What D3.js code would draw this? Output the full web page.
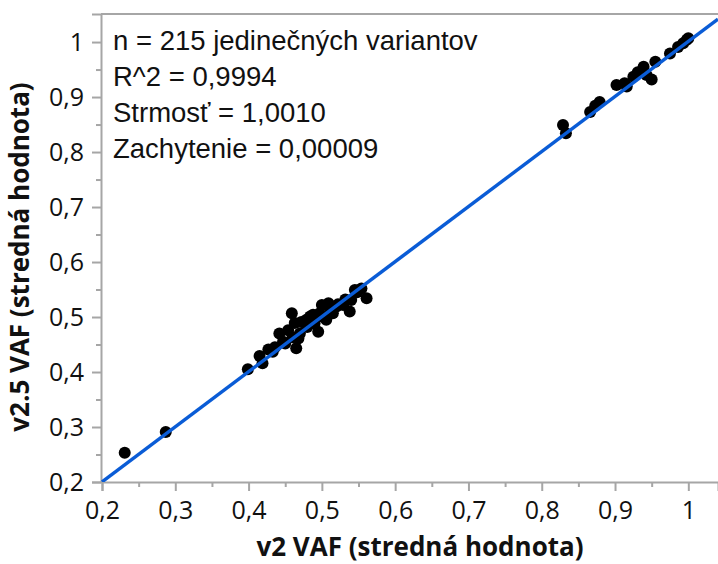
<!DOCTYPE html>
<html>
<head>
<meta charset="utf-8">
<script src="https://cdn.jsdelivr.net/npm/d3@7"></script>
<style>
  body { margin: 0; background: #fff; }
  svg { display: block; }
</style>
</head>
<body>
<svg id="chart" width="718" height="564"></svg>
<script>
// hodnoty odčítané z grafu
var v2Vaf = [
  0.231, 0.287,
  0.399, 0.415, 0.419, 0.427, 0.433, 0.436, 0.442, 0.447, 0.450, 0.454, 0.459, 0.460, 0.465, 0.463,
  0.468, 0.470, 0.472, 0.479, 0.480, 0.484, 0.488, 0.490, 0.495, 0.497, 0.500, 0.502, 0.506, 0.509,
  0.512, 0.515, 0.520, 0.522, 0.529, 0.532, 0.538, 0.540, 0.545, 0.548, 0.554, 0.561,
  0.829, 0.833, 0.866, 0.873, 0.879, 0.902, 0.913, 0.916, 0.925, 0.931, 0.939, 0.943, 0.950, 0.955,
  0.975, 0.986, 0.993, 0.998, 1.000
];
var v25Vaf = [
  0.253, 0.291,
  0.405, 0.429, 0.416, 0.441, 0.437, 0.445, 0.470, 0.455, 0.452, 0.476, 0.507, 0.463, 0.443, 0.489,
  0.461, 0.470, 0.491, 0.495, 0.482, 0.501, 0.504, 0.488, 0.473, 0.507, 0.522, 0.500, 0.495, 0.525,
  0.512, 0.507, 0.519, 0.523, 0.522, 0.532, 0.510, 0.531, 0.549, 0.545, 0.552, 0.534,
  0.849, 0.834, 0.873, 0.884, 0.891, 0.922, 0.925, 0.919, 0.937, 0.945, 0.955, 0.940, 0.932, 0.964,
  0.979, 0.991, 0.998, 1.004, 1.007
];
var tickValues = [0.2, 0.3, 0.4, 0.5, 0.6, 0.7, 0.8, 0.9, 1];
var minorTicks = [0.25, 0.35, 0.45, 0.55, 0.65, 0.75, 0.85, 0.95];
var statLines = [
  "n = 215 jedinečných variantov",
  "R^2 = 0,9994",
  "Strmosť = 1,0010",
  "Zachytenie = 0,00009"
];
var slope = 1.0010, intercept = 0.00009;

var svg = d3.select("#chart");
var plotLeft = 101, plotRight = 718, plotTop = 14, plotBottom = 482;

var x = d3.scaleLinear().domain([0.2, 1.0405]).range([102, 718]);
var y = d3.scaleLinear().domain([0.2, 1.051]).range([plotBottom, plotTop]);

var fmt = function (d) { return d3.format("~g")(d).replace(".", ","); };
var axisColor = "#a6a6a6";

// rám
svg.append("line").attr("x1", plotLeft).attr("x2", plotRight).attr("y1", plotTop).attr("y2", plotTop)
  .attr("stroke", axisColor).attr("stroke-width", 2);

// os x
var gx = svg.append("g").attr("transform", "translate(0," + plotBottom + ")");
gx.call(d3.axisBottom(x).tickValues(tickValues).tickSize(9).tickPadding(10).tickFormat(fmt));
var gxMinor = gx.append("g").call(d3.axisBottom(x).tickValues(minorTicks).tickSize(5).tickFormat(""));
gxMinor.select(".domain").remove();

// os y
var gy = svg.append("g").attr("transform", "translate(" + plotLeft + ",0)");
gy.call(d3.axisLeft(y).tickValues(tickValues).tickSize(9).tickPadding(8).tickFormat(fmt));
var gyMinor = gy.append("g").call(d3.axisLeft(y).tickValues(minorTicks).tickSize(5).tickFormat(""));
gyMinor.select(".domain").remove();

svg.selectAll(".domain").attr("stroke", axisColor).attr("stroke-width", 2);
svg.selectAll(".tick line").attr("stroke", axisColor).attr("stroke-width", 2);
svg.selectAll(".tick text")
  .style("font-family", "'Open Sans', sans-serif")
  .style("font-size", "25px")
  .attr("fill", "#111");

// body
svg.append("g").selectAll("circle")
  .data(v2Vaf)
  .enter()
  .append("circle")
  .attr("cx", function (d) { return x(d); })
  .attr("cy", function (d, i) { return y(v25Vaf[i]); })
  .attr("r", 6)
  .attr("fill", "#000");

// regresná priamka
var xs = x.domain();
svg.append("defs").append("clipPath").attr("id", "plot")
  .append("rect").attr("x", plotLeft).attr("y", plotTop)
  .attr("width", plotRight - plotLeft).attr("height", plotBottom - plotTop);
svg.append("line")
  .attr("clip-path", "url(#plot)")
  .attr("x1", x(xs[0])).attr("y1", y(intercept + slope * xs[0]))
  .attr("x2", x(xs[1])).attr("y2", y(intercept + slope * xs[1]))
  .attr("stroke", "#0a5cd6").attr("stroke-width", 3.5);

// štatistiky
svg.append("g").selectAll("text")
  .data(statLines)
  .enter()
  .append("text")
  .attr("x", 113)
  .attr("y", function (d, i) { return 50 + i * 36; })
  .text(function (d) { return d; })
  .style("font-family", "'Liberation Sans', Arial, sans-serif")
  .style("font-size", "27.5px")
  .attr("fill", "#111");

// názvy osí
svg.append("text")
  .attr("x", 420).attr("y", 556)
  .attr("text-anchor", "middle")
  .text("v2 VAF (stredná hodnota)")
  .style("font-family", "'Open Sans', sans-serif")
  .style("font-size", "26px").style("font-weight", "bold")
  .attr("fill", "#111");

svg.append("text")
  .attr("transform", "translate(29,257) rotate(-90)")
  .attr("text-anchor", "middle")
  .text("v2.5 VAF (stredná hodnota)")
  .style("font-family", "'Open Sans', sans-serif")
  .style("font-size", "26px").style("font-weight", "bold")
  .attr("fill", "#111");
</script>
</body>
</html>
